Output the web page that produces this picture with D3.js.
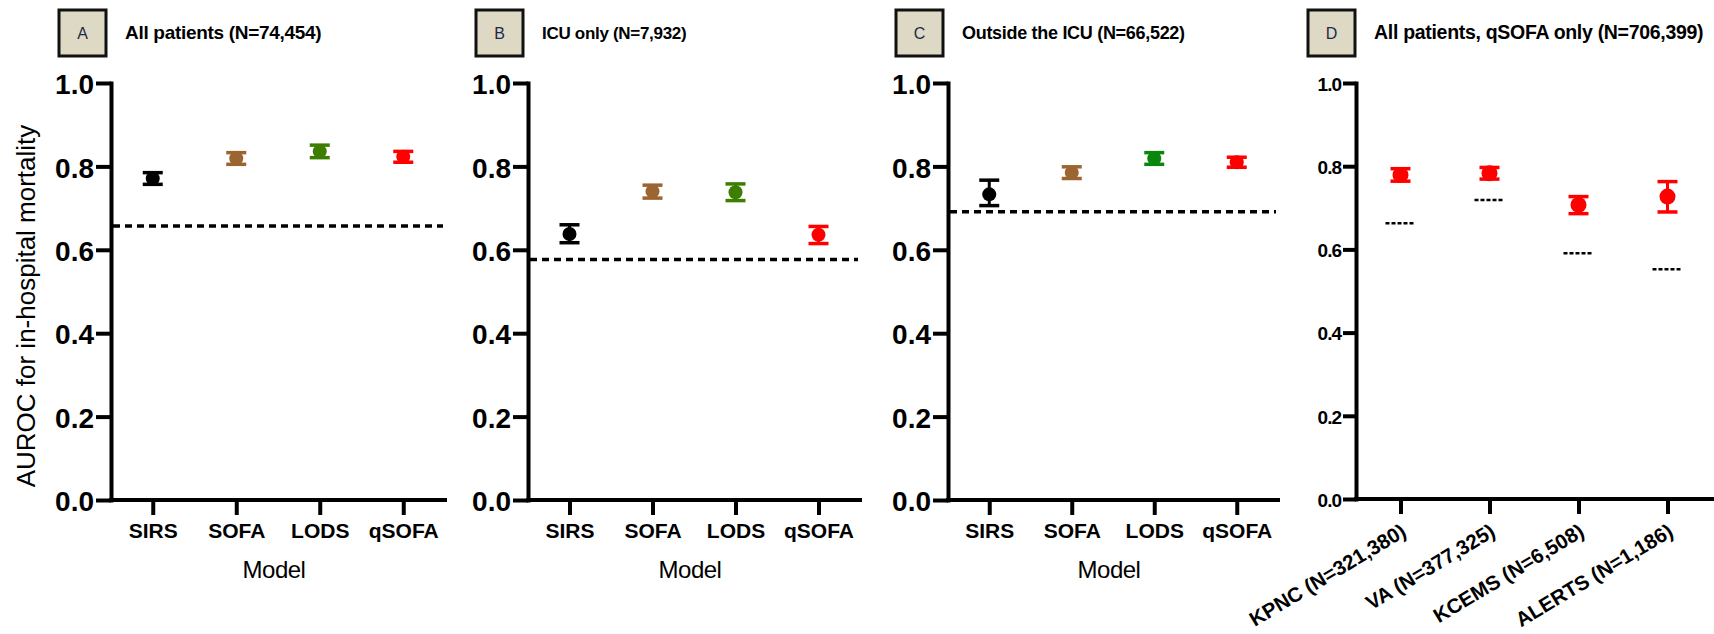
<!DOCTYPE html>
<html>
<head>
<meta charset="utf-8">
<script src="https://cdn.jsdelivr.net/npm/d3@7"></script>
<style>
  html, body { margin: 0; padding: 0; background: #fff; }
  svg { display: block; font-family: "Liberation Sans", Arial, sans-serif; }
</style>
</head>
<body>
<svg id="chart" width="1714" height="634"></svg>
<script>
// ---------------- DATA ----------------
const models = ["SIRS", "SOFA", "LODS", "qSOFA"];
const yTicks = [0, 0.2, 0.4, 0.6, 0.8, 1.0];

// Panel A: All patients
const aurocA = [0.771, 0.819, 0.836, 0.823];
const lowA   = [0.757, 0.805, 0.821, 0.810];
const highA  = [0.785, 0.833, 0.851, 0.836];
const refA   = 0.657;

// Panel B: ICU only
const aurocB = [0.638, 0.740, 0.738, 0.636];
const lowB   = [0.617, 0.724, 0.718, 0.615];
const highB  = [0.660, 0.755, 0.758, 0.656];
const refB   = 0.577;

// Panel C: Outside the ICU
const aurocC = [0.733, 0.785, 0.819, 0.810];
const lowC   = [0.706, 0.771, 0.805, 0.798];
const highC  = [0.767, 0.799, 0.833, 0.822];
const refC   = 0.691;

// Panel D: qSOFA only, by cohort
const cohorts = ["KPNC (N=321,380)", "VA (N=377,325)", "KCEMS (N=6,508)", "ALERTS (N=1,186)"];
const aurocD  = [0.779, 0.783, 0.707, 0.727];
const lowD    = [0.764, 0.769, 0.686, 0.690];
const highD   = [0.794, 0.797, 0.727, 0.763];
const refD    = [0.663, 0.719, 0.591, 0.552];

const colorsABC = ["#000000", "#9b6431", "#3d7e00", "#ff0000"];
const colorsC   = ["#000000", "#9b6431", "#0a870a", "#ff0000"];
const colorD    = "#ff0000";

const panelLetters = ["A", "B", "C", "D"];
const panelTitles = [
  "All patients (N=74,454)",
  "ICU only (N=7,932)",
  "Outside the ICU (N=66,522)",
  "All patients, qSOFA only (N=706,399)"
];
const yTitle = "AUROC for in-hospital mortality";
const xTitle = "Model";

// ---------------- LAYOUT ----------------
const svg = d3.select("#chart");
const FONT = '"Liberation Sans", Arial, sans-serif';

const panels = [
  { x0: 111, x1: 445, y0: 500, y1: 83, boxX: 59,   titleX: 125,  titleFs: 19,   cats: models,  val: aurocA, lo: lowA, hi: highA, ref: refA, colors: colorsABC },
  { x0: 528, x1: 860, y0: 500, y1: 83, boxX: 476,  titleX: 542,  titleFs: 17,   cats: models,  val: aurocB, lo: lowB, hi: highB, ref: refB, colors: colorsABC },
  { x0: 948, x1: 1278, y0: 500, y1: 83, boxX: 896, titleX: 962,  titleFs: 18,   cats: models,  val: aurocC, lo: lowC, hi: highC, ref: refC, colors: colorsC },
  { x0: 1356, x1: 1712, y0: 499, y1: 83, boxX: 1308, titleX: 1374, titleFs: 19.5, cats: cohorts, val: aurocD, lo: lowD, hi: highD, refs: refD, colors: cohorts.map(() => colorD), isD: true }
];

panels.forEach((p, i) => {
  const g = svg.append("g");
  const x = d3.scalePoint().domain(p.cats).range([p.x0, p.x1]).padding(0.5);
  const y = d3.scaleLinear().domain([0, 1]).range([p.y0, p.y1]);

  // title box
  g.append("rect")
    .attr("x", p.boxX).attr("y", 10).attr("width", 47).attr("height", 46)
    .attr("fill", "#ddd9c4").attr("stroke", "#111").attr("stroke-width", 3);
  g.append("text")
    .attr("x", p.boxX + 23.5).attr("y", 39)
    .attr("text-anchor", "middle")
    .attr("font-size", 16).attr("fill", "#1f2a44")
    .text(panelLetters[i]);
  g.append("text")
    .attr("x", p.titleX).attr("y", 39)
    .attr("font-size", p.titleFs).attr("font-weight", "bold")
    .attr("letter-spacing", -0.3)
    .attr("fill", "#000")
    .text(panelTitles[i]);

  // reference (dashed) lines
  if (!p.isD) {
    g.append("line")
      .attr("x1", p.x0 + 2).attr("x2", p.x1 - 2)
      .attr("y1", y(p.ref)).attr("y2", y(p.ref))
      .attr("stroke", "#000").attr("stroke-width", 3.5)
      .attr("stroke-dasharray", "7,5");
  } else {
    g.selectAll("line.ref").data(p.cats).join("line")
      .attr("class", "ref")
      .attr("x1", d => x(d) - 15).attr("x2", d => x(d) + 15)
      .attr("y1", (d, k) => y(p.refs[k])).attr("y2", (d, k) => y(p.refs[k]))
      .attr("stroke", "#000").attr("stroke-width", 2.5)
      .attr("stroke-dasharray", "4,2");
  }

  // axes
  const yAxis = d3.axisLeft(y).tickValues(yTicks).tickFormat(d3.format(".1f"))
    .tickSize(p.isD ? 13 : 15).tickSizeOuter(0).tickPadding(2);
  const yg = g.append("g").attr("transform", `translate(${p.x0},0)`).call(yAxis);
  yg.selectAll("text")
    .attr("font-family", FONT)
    .attr("font-size", p.isD ? 19 : 28)
    .attr("font-weight", "bold")
    .attr("letter-spacing", p.isD ? -1 : 0)
    .attr("fill", "#000")
    .attr("dy", "0.38em");

  const xAxis = d3.axisBottom(x).tickSize(15).tickSizeOuter(0).tickPadding(8);
  const xg = g.append("g").attr("transform", `translate(0,${p.y0})`).call(xAxis);
  xg.select(".domain").attr("d", `M${p.x0},0H${p.x1}`);
  xg.selectAll("text")
    .attr("font-family", FONT)
    .attr("font-size", p.isD ? 20.5 : 21)
    .attr("font-weight", "bold")
    .attr("fill", "#000");
  if (p.isD) {
    xg.selectAll(".tick text")
      .attr("x", 0).attr("y", 0).attr("dy", "0.35em")
      .attr("text-anchor", "end")
      .attr("transform", "translate(3,30) rotate(-31)");
  }

  [yg, xg].forEach(ax => {
    ax.select(".domain").attr("stroke", "#000").attr("stroke-width", 4).attr("stroke-linecap", "square");
    ax.selectAll(".tick line").attr("stroke", "#000").attr("stroke-width", 4);
  });

  // x-axis title
  if (!p.isD) {
    g.append("text")
      .attr("x", (p.x0 + p.x1) / 2 - 4).attr("y", 578)
      .attr("text-anchor", "middle")
      .attr("font-size", 24).attr("letter-spacing", -0.5)
      .attr("fill", "#000")
      .text(xTitle);
  }

  // error bars + points
  const r = p.isD ? 8 : 7;
  const capW = 20;
  const pts = g.selectAll("g.pt").data(p.cats).join("g").attr("class", "pt");
  pts.append("line")
    .attr("x1", d => x(d)).attr("x2", d => x(d))
    .attr("y1", (d, k) => y(p.lo[k])).attr("y2", (d, k) => y(p.hi[k]))
    .attr("stroke", (d, k) => p.colors[k]).attr("stroke-width", 3);
  ["lo", "hi"].forEach(key => {
    pts.append("line")
      .attr("x1", d => x(d) - capW / 2).attr("x2", d => x(d) + capW / 2)
      .attr("y1", (d, k) => y(p[key][k])).attr("y2", (d, k) => y(p[key][k]))
      .attr("stroke", (d, k) => p.colors[k]).attr("stroke-width", 3.5);
  });
  pts.append("circle")
    .attr("cx", d => x(d)).attr("cy", (d, k) => y(p.val[k]))
    .attr("r", r)
    .attr("fill", (d, k) => p.colors[k]);
});

// y-axis title (panel A)
svg.append("text")
  .attr("transform", "translate(35,306) rotate(-90)")
  .attr("text-anchor", "middle")
  .attr("font-size", 26)
  .attr("fill", "#000")
  .text(yTitle);
</script>
</body>
</html>
